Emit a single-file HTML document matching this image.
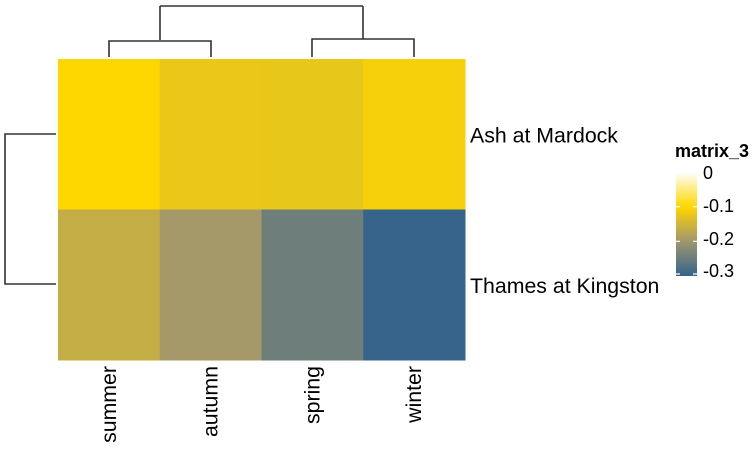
<!DOCTYPE html>
<html><head><meta charset="utf-8"><style>
html,body{margin:0;padding:0;background:#fff;}
svg{display:block;font-family:"Liberation Sans",Arial,sans-serif;}
</style></head><body>
<svg id="chart" width="755" height="451">
<defs>
<linearGradient id="lg" x1="0" y1="1" x2="0" y2="0">
<stop offset="0" stop-color="#36648B"/>
<stop offset="0.333" stop-color="#A0966E"/>
<stop offset="0.667" stop-color="#FFD700"/>
<stop offset="1" stop-color="#FFFFFF"/>
</linearGradient>
</defs>
<g id="cells"></g>
<g id="dend" stroke="#333" stroke-width="1.6" fill="none">
<path d="M160,6 V40 M363,6 V39 M160,6 H363 M109,57 V41 H211 V57 M312,57 V39 H414 V57"/>
<path d="M56,134 H5 V284 H56"/>
</g>
<g id="rowlabels" font-size="21.3" fill="#000"></g>
<g id="collabels" font-size="21.3" fill="#000"></g>
<g>
<text x="675" y="157" font-size="18" font-weight="bold">matrix_3</text>
<rect x="676" y="172" width="21" height="104" fill="url(#lg)"/>
<g stroke="#fff" stroke-width="1.2">
<path d="M676,206.7H680M693,206.7H697M676,241.3H680M693,241.3H697M676,274H680M693,274H697"/>
</g>
<g font-size="18" fill="#000">
<text x="703" y="179">0</text>
<text x="703" y="212">-0.1</text>
<text x="703" y="245">-0.2</text>
<text x="703" y="277">-0.3</text>
</g>
</g>
</svg>
<script>
const columns = ["summer","autumn","spring","winter"];
const rows = ["Ash at Mardock","Thames at Kingston"];
const valuesAsh = [-0.1, -0.124, -0.126, -0.11];
const valuesThames = [-0.166, -0.2, -0.25, -0.3];
const matrix = [valuesAsh, valuesThames];

const NS = "http://www.w3.org/2000/svg";
const x0 = 58, x1 = 465, y0 = 59, y1 = 360;
const cw = (x1 - x0) / columns.length, rh = (y1 - y0) / rows.length;
const xPos = i => x0 + i * cw;
const yPos = j => y0 + j * rh;
const stops = [[-0.3,[54,100,139]],[-0.2,[165,152,105]],[-0.1,[255,215,0]],[0,[255,255,255]]];
function color(v){
  v = Math.max(-0.3, Math.min(0, v));
  for (let k = 0; k < stops.length - 1; k++) {
    const [a, ca] = stops[k], [b, cb] = stops[k+1];
    if (v <= b) {
      const t = (v - a) / (b - a);
      return "rgb(" + ca.map((c,i)=>Math.round(c + (cb[i]-c)*t)).join(",") + ")";
    }
  }
  return "#fff";
}
const cells = document.getElementById("cells");
matrix.forEach((row, j) => row.forEach((v, i) => {
  const r = document.createElementNS(NS, "rect");
  r.setAttribute("x", xPos(i)); r.setAttribute("y", yPos(j));
  r.setAttribute("width", cw + 0.5); r.setAttribute("height", rh + 0.5);
  r.setAttribute("fill", color(v));
  
  
  cells.appendChild(r);
}));
const rl = document.getElementById("rowlabels");
rows.forEach((name, j) => {
  const t = document.createElementNS(NS, "text");
  t.setAttribute("x", 470); t.setAttribute("y", yPos(j) + rh / 2 + 8);
  t.textContent = name;
  
  
  rl.appendChild(t);
});
const cl = document.getElementById("collabels");
columns.forEach((name, i) => {
  const t = document.createElementNS(NS, "text");
  const cx = xPos(i) + cw / 2 + 7;
  t.setAttribute("x", cx); t.setAttribute("y", 366);
  t.setAttribute("text-anchor", "end");
  t.setAttribute("transform", "rotate(-90 " + cx + " 366)");
  t.textContent = name;
  
  
  cl.appendChild(t);
});
</script>
</body></html>
